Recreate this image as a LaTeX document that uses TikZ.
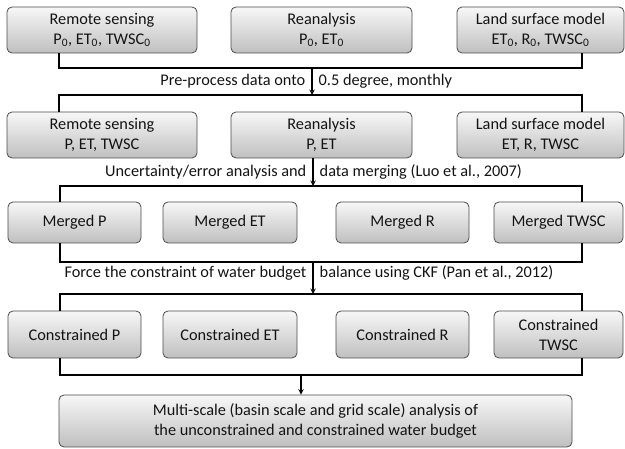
\documentclass[tikz,border=0pt]{standalone}
\usepackage{fontspec}
\setmainfont{Carlito}
\begin{document}
\begin{tikzpicture}[x=1pt,y=-1pt,>=stealth,
	stage/.style={draw=black!70, line width=0.8pt, rounded corners=5pt, top color=black!3, bottom color=black!25, align=center, inner sep=2pt, text=black!92, font=\fontsize{16.3}{20}\selectfont},
	lbl/.style={inner sep=6pt, text=black!92, font=\fontsize{16.3}{20}\selectfont},
	link/.style={line width=1.4pt}]
	\useasboundingbox (0,0) rectangle (625,449);
	
	\node [stage, minimum width=190pt, minimum height=46pt] (rs0) at (102,30) {Remote sensing\\P\textsubscript{0}, ET\textsubscript{0}, TWSC\textsubscript{0}};
	\node [stage, minimum width=181pt, minimum height=46pt] (ra0) at (321.5,30) {Reanalysis\\P\textsubscript{0}, ET\textsubscript{0}};
	\node [stage, minimum width=167pt, minimum height=46pt] (lsm0) at (540.5,30) {Land surface model\\ET\textsubscript{0}, R\textsubscript{0}, TWSC\textsubscript{0}};
	
	\node [stage, minimum width=190pt, minimum height=46pt] (rs) at (102,135) {Remote sensing\\P, ET, TWSC};
	\node [stage, minimum width=181pt, minimum height=46pt] (ra) at (321.5,135) {Reanalysis\\P, ET};
	\node [stage, minimum width=167pt, minimum height=46pt] (lsm) at (540.5,135) {Land surface model\\ET, R, TWSC};
	
	\node [stage, minimum width=133pt, minimum height=41pt] (mP) at (74.5,222.5) {Merged P};
	\node [stage, minimum width=134pt, minimum height=41pt] (mET) at (230,222.5) {Merged ET};
	\node [stage, minimum width=133pt, minimum height=41pt] (mR) at (402.5,222.5) {Merged R};
	\node [stage, minimum width=129pt, minimum height=41pt] (mTWSC) at (558.5,222.5) {Merged TWSC};
	
	\node [stage, minimum width=133pt, minimum height=47pt] (cP) at (74.5,334.5) {Constrained P};
	\node [stage, minimum width=134pt, minimum height=47pt] (cET) at (230,334.5) {Constrained ET};
	\node [stage, minimum width=133pt, minimum height=47pt] (cR) at (402.5,334.5) {Constrained R};
	\node [stage, minimum width=129pt, minimum height=47pt] (cTWSC) at (558.5,334.5) {Constrained\\TWSC};
	
	\node [stage, minimum width=513pt, minimum height=52pt] (fin) at (315.5,421) {Multi-scale (basin scale and grid scale) analysis of\\the unconstrained and constrained water budget};
	
	\coordinate (b1l) at (59,68); \coordinate (b1r) at (582,68);
	\coordinate (b2l) at (59,95); \coordinate (b2r) at (582,95);
	\coordinate (a1s) at (312,68); \coordinate (a1e) at (312,95);
	\coordinate (a2) at (313,186);
	\coordinate (b3l) at (60,186); \coordinate (b3r) at (582,186);
	\coordinate (b4l) at (60,262); \coordinate (b4r) at (582,262);
	\coordinate (b5l) at (60,294); \coordinate (b5r) at (582,294);
	\coordinate (a3s) at (313,262); \coordinate (a3e) at (313,294);
	\coordinate (b6l) at (60,375); \coordinate (b6r) at (582,375);
	\coordinate (a4) at (301,375);
	
	\draw [link] (rs0.south -| b1l) -- (b1l) -- (b1r) -- (lsm0.south -| b1r);
	\draw [link, ->] (a1s) -- node [lbl, left] {Pre-process data onto} node [lbl, right] {0.5 degree, monthly} (a1e);
	\draw [link] (rs.north -| b2l) -- (b2l) -- (b2r) -- (lsm.north -| b2r);
	
	\draw [link, ->] (ra.south -| a2) -- node [lbl, left] {Uncertainty/error analysis and} node [lbl, right] {data merging (Luo et al., 2007)} (a2);
	\draw [link] (mP.north -| b3l) -- (b3l) -- (b3r) -- (mTWSC.north -| b3r);
	
	\draw [link] (mP.south -| b4l) -- (b4l) -- (b4r) -- (mTWSC.south -| b4r);
	\draw [link, ->] (a3s) -- node [lbl, left, pos=0.35] {Force the constraint of water budget} node [lbl, right, pos=0.35] {balance using CKF (Pan et al., 2012)} (a3e);
	\draw [link] (cP.north -| b5l) -- (b5l) -- (b5r) -- (cTWSC.north -| b5r);
	
	\draw [link] (cP.south -| b6l) -- (b6l) -- (b6r) -- (cTWSC.south -| b6r);
	\draw [link, ->] (a4) -- (fin.north -| a4);
\end{tikzpicture}
\end{document}
